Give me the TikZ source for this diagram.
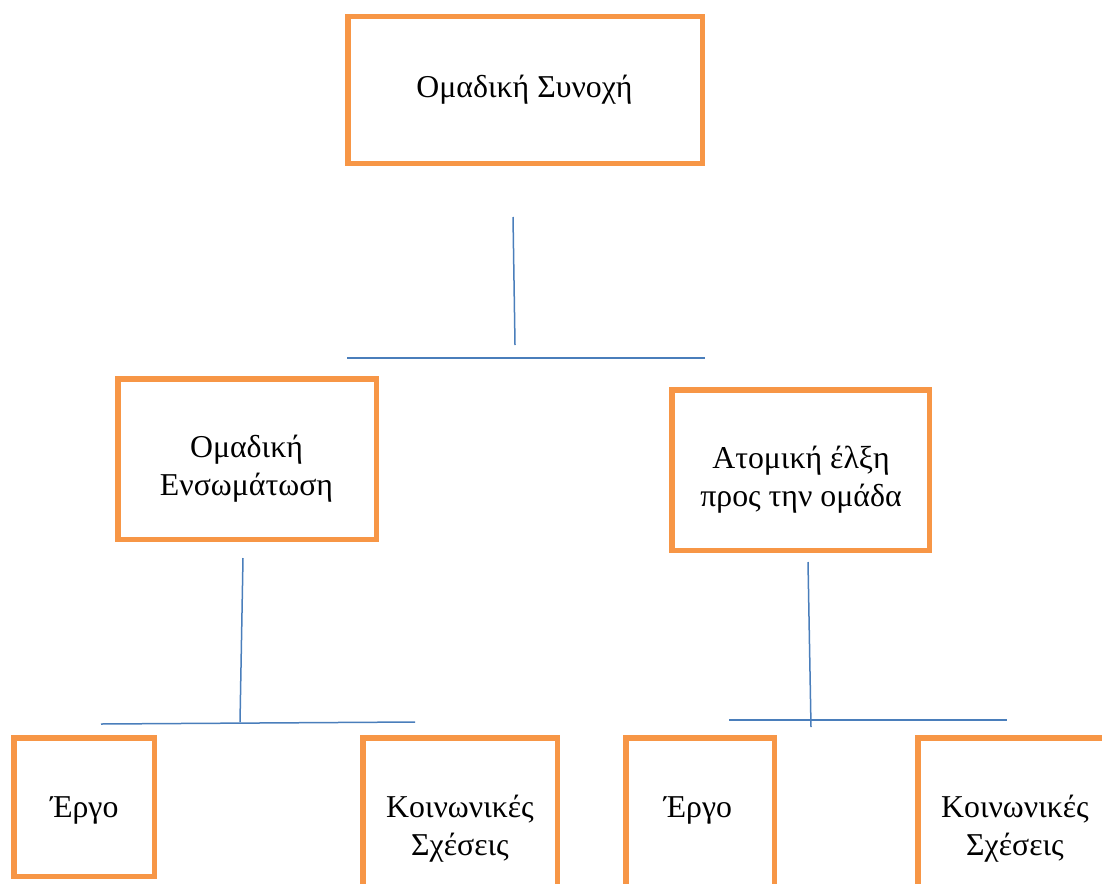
\documentclass[tikz,border=0pt]{standalone}
\usepackage{fontspec}
\setmainfont{Liberation Serif}
\definecolor{boxorange}{HTML}{F79646}
\definecolor{lineblue}{HTML}{4A7EBB}
\begin{document}
\begin{tikzpicture}[x=1pt,y=-1pt,
  box/.style={draw=boxorange, line width=5.5pt, rectangle, inner sep=0pt, fill=none},
  txt/.style={font=\fontsize{31.8}{38}\selectfont, align=center, inner sep=0pt, anchor=base},
  conn/.style={draw=lineblue, line width=1.5pt}]
\useasboundingbox (0,0) rectangle (1102,883);
\clip (0,0) rectangle (1102,883);
% boxes
\node[box, minimum width=354.5pt, minimum height=146.5pt] (top) at (525,90) {};
\node[box, minimum width=258.5pt, minimum height=160.5pt] (lm) at (247,459) {};
\node[box, minimum width=257.5pt, minimum height=160.5pt] (rm) at (800.5,470) {};
\node[box, minimum width=140.5pt, minimum height=138.5pt] (b1) at (84,807) {};
\node[box, minimum width=194.5pt, minimum height=149.5pt] (b2) at (460,812.5) {};
\node[box, minimum width=148.5pt, minimum height=149.5pt] (b3) at (700,812.5) {};
\node[box, minimum width=194.5pt, minimum height=149.5pt] (b4) at (1015,812.5) {};
% texts (multi-line: anchored at the baseline of the last line)
\node[txt] (ttop) at (524.5,97) {Ομαδική Συνοχή};
\node[txt] (tlm) at (246.5,495) {Ομαδική\\Ενσωμάτωση};
\node[txt] (trm) at (801,506) {Ατομική έλξη\\προς την ομάδα};
\node[txt] (tb1) at (84.5,817) {Έργο};
\node[txt] (tb2) at (460,855) {Κοινωνικές\\Σχέσεις};
\node[txt] (tb3) at (698,817) {Έργο};
\node[txt] (tb4) at (1015,855) {Κοινωνικές\\Σχέσεις};
% connector coordinates
\coordinate (v1a) at (513,217);
\coordinate (v1b) at (515,345);
\coordinate (h1a) at (347,358);
\coordinate (h1b) at (705,358);
\coordinate (v2a) at (243,558);
\coordinate (v2b) at (240,722);
\coordinate (h2a) at (101,724);
\coordinate (h2b) at (415,722);
\coordinate (v3a) at (808,562);
\coordinate (v3b) at (811,727);
\coordinate (h3a) at (729,720);
\coordinate (h3b) at (1007,720);
% connectors
\draw[conn] (v1a) -- (v1b);
\draw[conn] (h1a) -- (h1b);
\draw[conn] (v2a) -- (v2b);
\draw[conn] (h2a) -- (h2b);
\draw[conn] (v3a) -- (v3b);
\draw[conn] (h3a) -- (h3b);
\end{tikzpicture}
\end{document}
